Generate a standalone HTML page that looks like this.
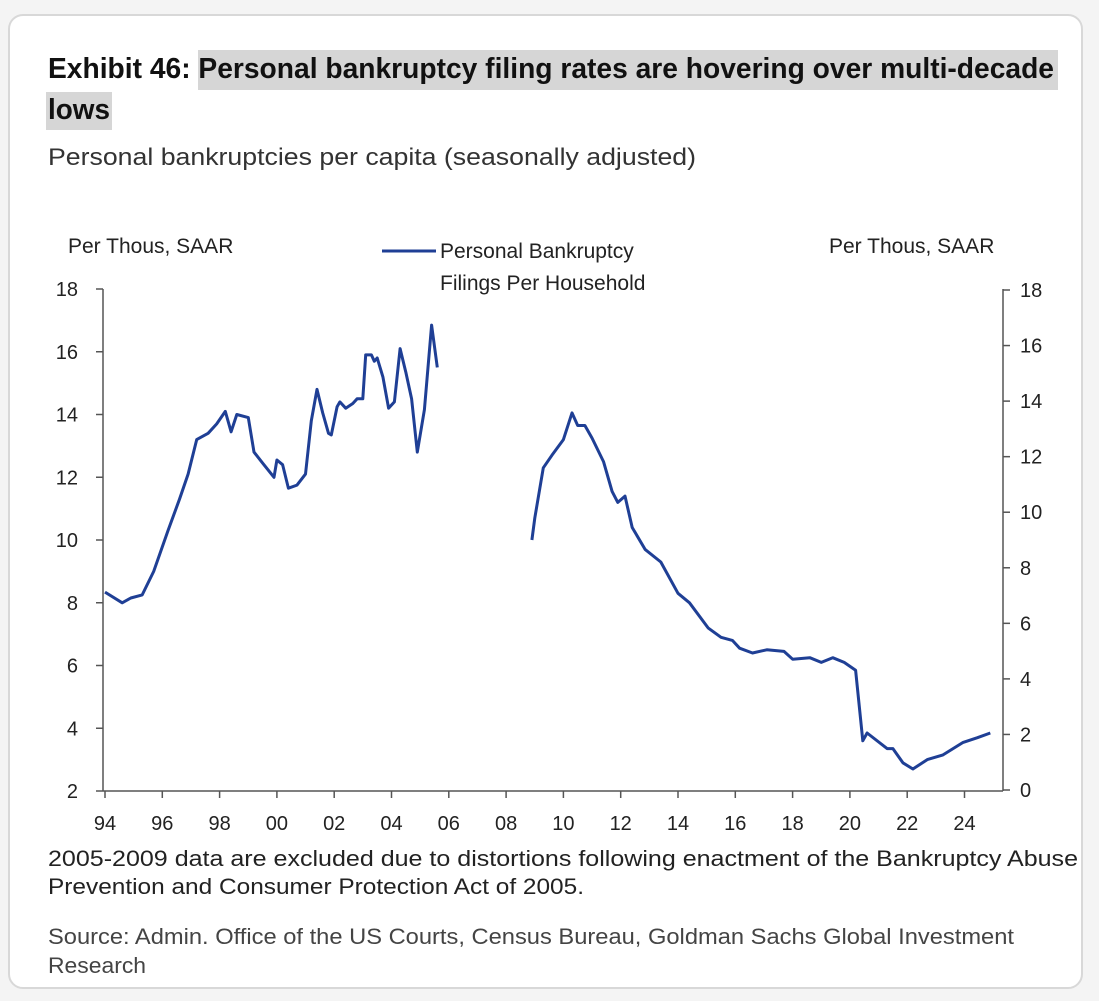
<!DOCTYPE html>
<html><head><meta charset="utf-8"><style>
html,body{margin:0;padding:0;background:#fff;}
svg{display:block;font-family:"Liberation Sans",Arial,sans-serif;}
</style></head><body>
<svg id="chart" width="1099" height="1001" viewBox="0 0 1099 1001">
<rect x="0" y="0" width="1099" height="1001" fill="#f4f4f4"/>
<rect x="9" y="15" width="1073" height="973" rx="14" fill="#fff" stroke="#d8d8d8" stroke-width="2"/>
<rect x="198" y="50" width="860" height="40" fill="#d6d6d6"/>
<rect x="46" y="92" width="66" height="38" fill="#d6d6d6"/>
<g font-family="'Liberation Sans Narrow','Liberation Sans',sans-serif" font-weight="bold" font-size="29" fill="#111">
<text x="48" y="78" textLength="1006" lengthAdjust="spacingAndGlyphs">Exhibit 46: Personal bankruptcy filing rates are hovering over multi-decade</text>
<text x="48" y="119" textLength="62" lengthAdjust="spacingAndGlyphs">lows</text>
</g>
<text x="48" y="165" font-family="'Liberation Sans Narrow','Liberation Sans',sans-serif" font-size="24" fill="#333" textLength="648" lengthAdjust="spacingAndGlyphs">Personal bankruptcies per capita (seasonally adjusted)</text>
<text x="68" y="253" font-size="21" fill="#222">Per Thous,  SAAR</text>
<text x="829" y="253" font-size="21" fill="#222">Per Thous,  SAAR</text>
<g>
<line x1="382" y1="251" x2="436" y2="251" stroke="#1f3f95" stroke-width="3"/>
<text x="440" y="258" font-size="21" fill="#222">Personal Bankruptcy</text>
<text x="440" y="290" font-size="21" fill="#222">Filings Per Household</text>
</g>
<g id="axes"></g>
<g id="series"></g>
<g font-family="'Liberation Sans Narrow','Liberation Sans',sans-serif" font-size="22" fill="#222">
<text x="48" y="866" textLength="1030" lengthAdjust="spacingAndGlyphs">2005-2009 data are excluded due to distortions following enactment of the Bankruptcy Abuse</text>
<text x="48" y="894" textLength="536" lengthAdjust="spacingAndGlyphs">Prevention and Consumer Protection Act of 2005.</text>
</g>
<g font-family="'Liberation Sans Narrow','Liberation Sans',sans-serif" font-size="22" fill="#444">
<text x="48" y="944" textLength="966" lengthAdjust="spacingAndGlyphs">Source: Admin. Office of the US Courts, Census Bureau, Goldman Sachs Global Investment</text>
<text x="48" y="973" textLength="98" lengthAdjust="spacingAndGlyphs">Research</text>
</g>
</svg>
<script>
const leftTicks = [2,4,6,8,10,12,14,16,18];
const rightTicks = [0,2,4,6,8,10,12,14,16,18];
const xTickYears = [1994,1996,1998,2000,2002,2004,2006,2008,2010,2012,2014,2016,2018,2020,2022,2024];
const xTickLabels = ["94","96","98","00","02","04","06","08","10","12","14","16","18","20","22","24"];
const seg1Years = [1994.0,1994.6,1994.9,1995.3,1995.7,1996.2,1996.6,1996.9,1997.2,1997.6,1997.9,1998.2,1998.4,1998.6,1999.0,1999.2,1999.5,1999.9,2000.0,2000.2,2000.4,2000.7,2001.0,2001.2,2001.4,2001.6,2001.8,2001.9,2002.1,2002.2,2002.4,2002.65,2002.8,2003.0,2003.1,2003.3,2003.4,2003.5,2003.7,2003.9,2004.1,2004.3,2004.5,2004.7,2004.9,2005.15,2005.4,2005.6];
const seg1Values = [8.34,8.0,8.15,8.25,9.0,10.3,11.3,12.1,13.2,13.4,13.7,14.1,13.45,14.0,13.9,12.8,12.45,12.0,12.55,12.4,11.65,11.75,12.1,13.8,14.8,14.05,13.4,13.35,14.25,14.4,14.2,14.35,14.5,14.5,15.9,15.9,15.7,15.8,15.2,14.2,14.4,16.1,15.35,14.5,12.8,14.15,16.85,15.5];
const seg2Years = [2008.9,2009.0,2009.3,2009.6,2010.0,2010.3,2010.5,2010.75,2011.0,2011.4,2011.7,2011.9,2012.15,2012.4,2012.85,2013.4,2014.0,2014.4,2015.05,2015.5,2015.9,2016.15,2016.6,2017.1,2017.7,2018.0,2018.6,2019.0,2019.4,2019.8,2020.2,2020.45,2020.6,2021.3,2021.5,2021.85,2022.2,2022.7,2023.25,2023.95,2024.45,2024.9];
const seg2Values = [10.0,10.7,12.3,12.7,13.2,14.05,13.65,13.65,13.25,12.5,11.55,11.2,11.4,10.4,9.7,9.3,8.3,8.0,7.2,6.9,6.8,6.55,6.4,6.5,6.45,6.2,6.25,6.1,6.25,6.1,5.85,3.6,3.85,3.35,3.35,2.9,2.7,3.0,3.15,3.55,3.7,3.85];

const NS = "http://www.w3.org/2000/svg";
const X0 = 103, X1 = 1003, Y0 = 791, Y1 = 289;
function xScale(yr){ return 105 + (yr - 1994) * 28.65; }
function yLeft(v){ return Y0 - (v - 2) * (Y0 - Y1) / 16; }
function yRight(v){ return 790 - v * 500 / 18; }
function mk(tag, attrs, parent){ const e = document.createElementNS(NS, tag); for (const k in attrs) e.setAttribute(k, attrs[k]); parent.appendChild(e); return e; }

const axes = document.getElementById('axes');
const ax = "#555";
let e;
e = mk('line', {x1:X0, y1:Y1, x2:X0, y2:Y0, stroke:ax, 'stroke-width':1.5}, axes);


e = mk('line', {x1:X1, y1:Y1, x2:X1, y2:Y0, stroke:ax, 'stroke-width':1.5}, axes);


e = mk('line', {x1:X0, y1:Y0, x2:X1, y2:Y0, stroke:ax, 'stroke-width':1.5}, axes);



leftTicks.forEach(v => {
  const y = yLeft(v);
  mk('line', {x1:X0-7, y1:y, x2:X0, y2:y, stroke:ax, 'stroke-width':1.5}, axes);
  const t = mk('text', {x:78, y:y+7, 'text-anchor':'end', 'font-size':20, fill:'#222'}, axes);
  t.textContent = v;
  
  
});
rightTicks.forEach(v => {
  const y = yRight(v);
  mk('line', {x1:X1, y1:y, x2:X1+7, y2:y, stroke:ax, 'stroke-width':1.5}, axes);
  const t = mk('text', {x:1020, y:y+7, 'font-size':20, fill:'#222'}, axes);
  t.textContent = v;
  
  
});
xTickYears.forEach((yr, i) => {
  const x = xScale(yr);
  mk('line', {x1:x, y1:Y0, x2:x, y2:Y0+7, stroke:ax, 'stroke-width':1.5}, axes);
  const t = mk('text', {x:x, y:830, 'text-anchor':'middle', 'font-size':20, fill:'#222'}, axes);
  t.textContent = xTickLabels[i];
  
  
});

const series = document.getElementById('series');
function drawSeg(years, vals, name){
  const d = years.map((yr, i) => (i ? 'L' : 'M') + xScale(yr).toFixed(1) + ',' + yLeft(vals[i]).toFixed(1)).join(' ');
  const p = mk('path', {d:d, fill:'none', stroke:'#1f3f95', 'stroke-width':3, 'stroke-linejoin':'round'}, series);
  
  
}
drawSeg(seg1Years, seg1Values, 'bankruptcy-line-1994-2005');
drawSeg(seg2Years, seg2Values, 'bankruptcy-line-2009-2024');
</script>
</body></html>
